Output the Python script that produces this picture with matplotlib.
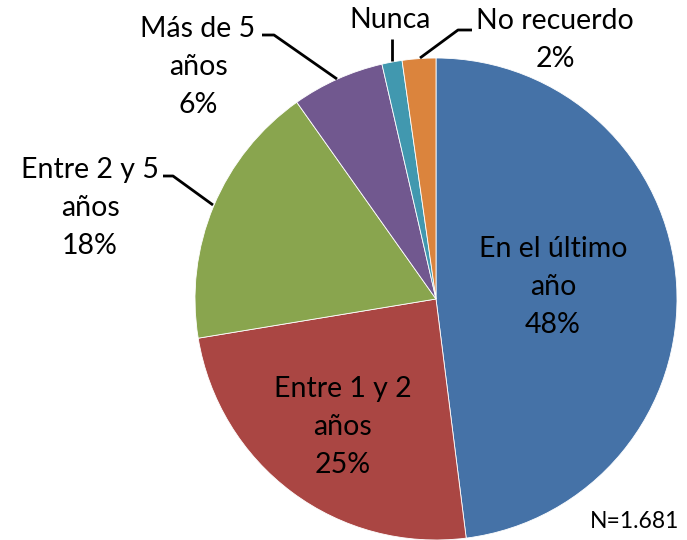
import matplotlib
matplotlib.use("Agg")
import matplotlib.pyplot as plt

categories = ["En el último\naño", "Entre 1 y 2\naños", "Entre 2 y 5\naños", "Más de 5\naños", "Nunca", "No recuerdo"]
values = [48.0, 24.4, 17.8, 6.2, 1.35, 2.25]
pct_labels = ["48%", "25%", "18%", "6%", None, "2%"]
colors = ["#4572A7", "#AA4643", "#89A54E", "#71588F", "#4198AF", "#DB843D"]

W, H = 687, 540
fig = plt.figure(figsize=(W / 100, H / 100), dpi=100)
ax = fig.add_axes([0, 0, 1, 1])

cx, cy, r = 436, H - 299, 241
ax.pie(values, colors=colors, startangle=90, counterclock=False,
       center=(cx, cy), radius=r,
       wedgeprops=dict(edgecolor="white", linewidth=0.6))
ax.set_xlim(0, W)
ax.set_ylim(0, H)
ax.set_aspect("auto")
ax.axis("off")

font = "Lato"
fs = 20.5
def lab(i, x, y):
    txt = categories[i] + ("\n" + pct_labels[i] if pct_labels[i] else "")
    ax.text(x, H - y, txt, ha="center", va="center", fontsize=fs,
            family=font, linespacing=1.55, color="black")

lab(0, 553, 287)
lab(1, 343, 427)
lab(2, 90, 208)
lab(3, 198, 67)
lab(4, 390, 20)
lab(5, 555, 40)

def leader(pts):
    xs = [p[0] for p in pts]
    ys = [H - p[1] for p in pts]
    ax.plot(xs, ys, color="black", linewidth=2, solid_capstyle="butt")

leader([(262, 35), (274, 35), (337, 79)])
leader([(392, 39), (392, 61)])
leader([(472, 30), (458, 30), (420, 58)])
leader([(163, 176), (173, 176), (213, 205)])

ax.text(635, H - 522, "N=1.681", ha="center", va="center", fontsize=16.5, family=font)

fig.savefig("out.png", dpi=100)
